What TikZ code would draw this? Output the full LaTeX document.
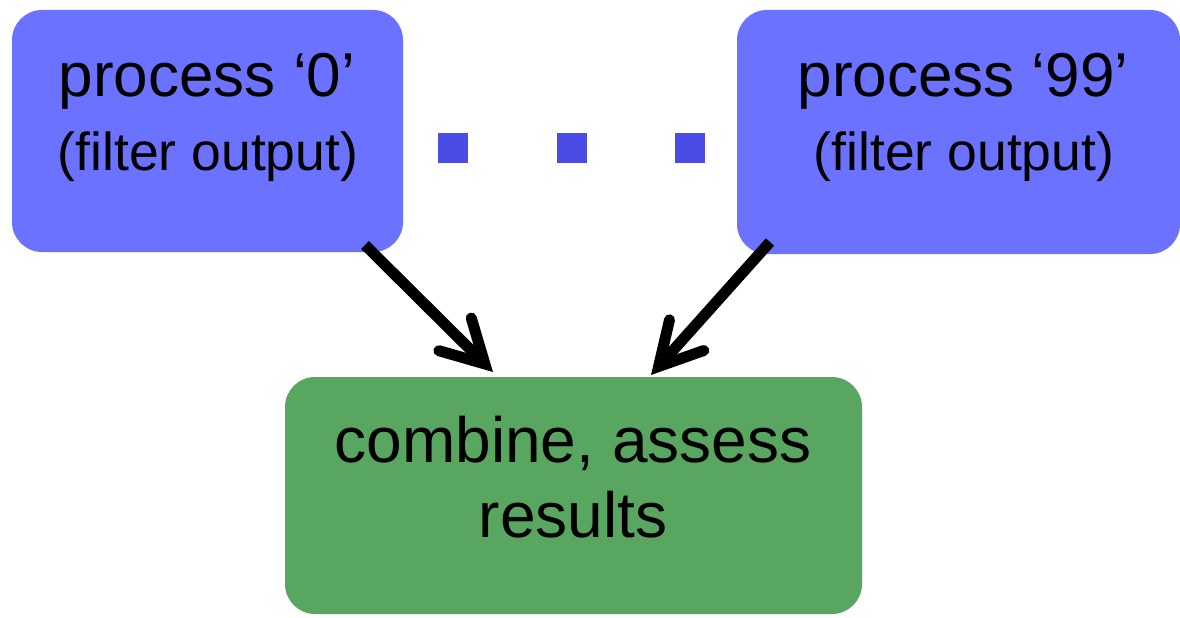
\documentclass[tikz,border=0pt]{standalone}
\usepackage{fontspec}
\setmainfont{Liberation Sans}
\usetikzlibrary{arrows.meta}
\definecolor{procblue}{HTML}{6A72FF}
\definecolor{dotblue}{HTML}{4B4BE6}
\definecolor{combgreen}{HTML}{58A660}
\tikzset{
  procbox/.style={fill=procblue, rounded corners=30pt, draw=none},
  combbox/.style={fill=combgreen, rounded corners=30pt, draw=none},
  dotsq/.style={fill=dotblue, draw=none, minimum size=30pt, inner sep=0pt},
  bigtxt/.style={anchor=base, inner sep=0pt, font=\fontsize{62}{70}\selectfont},
  greentxt/.style={anchor=base, inner sep=0pt, font=\fontsize{64}{72}\selectfont},
  smalltxt/.style={anchor=base, inner sep=0pt, font=\fontsize{53.5}{60}\selectfont},
  flowarrow/.style={line width=11pt, -{Straight Barb[length=42pt, width=46pt, line cap=round, line join=miter]}}
}
\begin{document}
\begin{tikzpicture}[x=1pt, y=-1pt]
\useasboundingbox (0,0) rectangle (1180,618);
\path[procbox] (12,10) rectangle (403,252);
\path[procbox] (737,10) rectangle (1180,254);
\path[combbox] (285,377) rectangle (862,614);
\node[bigtxt] (p0) at (207,96) {process ‘0’};
\node[smalltxt] (f0) at (208,170) {(filter output)};
\node[bigtxt] (p99) at (963,96) {process ‘99’};
\node[smalltxt] (f99) at (964,170) {(filter output)};
\node[greentxt] (c1) at (573,462) {combine, assess};
\node[greentxt] (c2) at (573,537) {results};
\node[dotsq] (d1) at (453,148) {};
\node[dotsq] (d2) at (572,148) {};
\node[dotsq] (d3) at (690,148) {};
\coordinate (a0s) at (365,245);
\coordinate (a0e) at (493,372);
\coordinate (a9s) at (770,242);
\coordinate (a9e) at (651,375);
\draw[flowarrow] (a0s) -- (a0e);
\draw[flowarrow] (a9s) -- (a9e);
\end{tikzpicture}
\end{document}
